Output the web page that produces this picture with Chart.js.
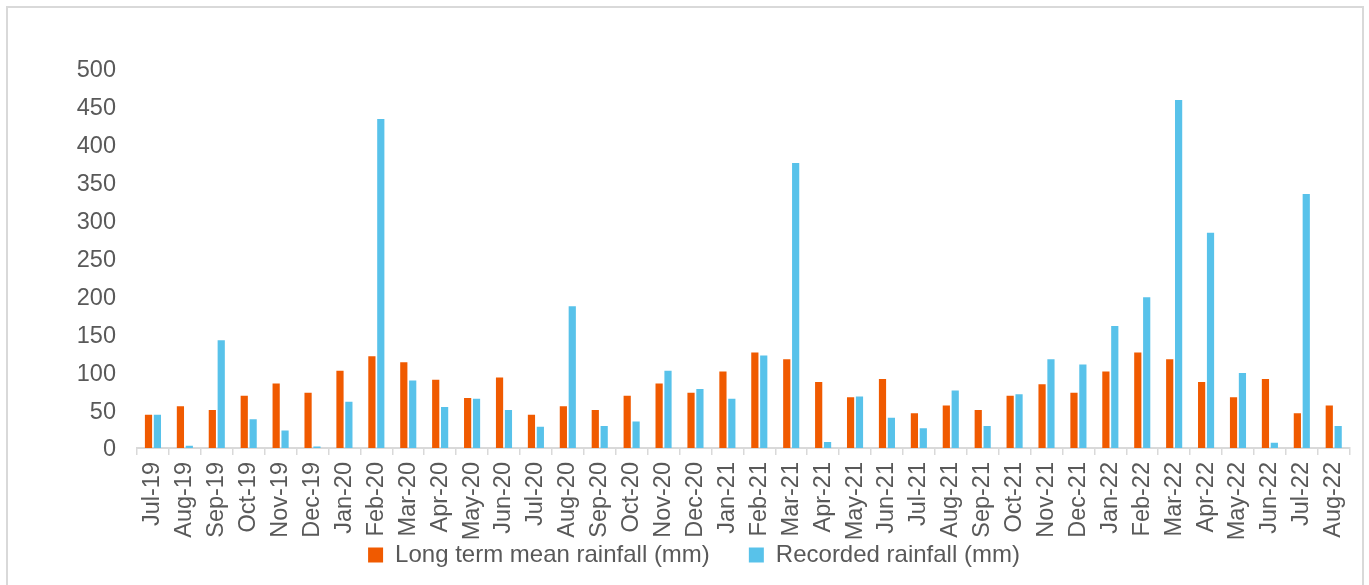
<!DOCTYPE html>
<html>
<head>
<meta charset="utf-8">
<script src="https://cdn.jsdelivr.net/npm/chart.js@4.4.1/dist/chart.umd.min.js"></script>
<style>
  html, body { margin: 0; padding: 0; background: #ffffff; }
  body { width: 1369px; height: 585px; overflow: hidden; position: relative; }
  #frame { position: absolute; left: 6px; top: 6px; width: 1358px; height: 600px; border: 2px solid #D9D9D9; box-sizing: border-box; }
  #wrap { position: absolute; left: 0; top: 0; width: 1369px; height: 585px; }
</style>
</head>
<body>
<div id="frame"></div>
<div id="wrap"><canvas id="c" width="1369" height="585"></canvas></div>
<script>
const categories = ["Jul-19","Aug-19","Sep-19","Oct-19","Nov-19","Dec-19",
  "Jan-20","Feb-20","Mar-20","Apr-20","May-20","Jun-20","Jul-20","Aug-20","Sep-20","Oct-20","Nov-20","Dec-20",
  "Jan-21","Feb-21","Mar-21","Apr-21","May-21","Jun-21","Jul-21","Aug-21","Sep-21","Oct-21","Nov-21","Dec-21",
  "Jan-22","Feb-22","Mar-22","Apr-22","May-22","Jun-22","Jul-22","Aug-22"];

const longTermMean = [44, 55, 50, 69, 85, 73,
  102, 121, 113, 90, 66, 93, 44, 55, 50, 69, 85, 73,
  101, 126, 117, 87, 67, 91, 46, 56, 50, 69, 84, 73,
  101, 126, 117, 87, 67, 91, 46, 56];

const recorded = [44, 3, 142, 38, 23, 2,
  61, 434, 89, 54, 65, 50, 28, 187, 29, 35, 102, 78,
  65, 122, 376, 8, 68, 40, 26, 76, 29, 71, 117, 110,
  161, 199, 459, 284, 99, 7, 335, 29];

const seriesNames = ["Long term mean rainfall (mm)", "Recorded rainfall (mm)"];
const yTicks = [0, 50, 100, 150, 200, 250, 300, 350, 400, 450, 500];

const FONT = "'Liberation Sans', Arial, sans-serif";
const TXT = "#595959";

new Chart(document.getElementById("c"), {
  type: "bar",
  data: {
    labels: categories,
    datasets: [
      { label: seriesNames[0], data: longTermMean, backgroundColor: "#F05A00",
        categoryPercentage: 0.5575, barPercentage: 0.81 },
      { label: seriesNames[1], data: recorded, backgroundColor: "#58C2EA",
        categoryPercentage: 0.5575, barPercentage: 0.81 }
    ]
  },
  options: {
    responsive: false,
    animation: false,
    devicePixelRatio: 1,
    layout: { padding: { left: 25, right: 6, top: 69, bottom: 8 } },
    plugins: {
      tooltip: { enabled: false },
      legend: {
        position: "bottom",
        labels: {
          font: { family: FONT, size: 24 },
          color: TXT,
          boxWidth: 15,
          boxHeight: 15,
          padding: 39
        }
      }
    },
    scales: {
      x: {
        afterFit: (s) => {
          s.height = 56;
          // let the vertical labels extend below the (shortened) axis box
          s._computeLabelArea = () => undefined;
        },
        grid: { display: true, drawOnChartArea: false, drawTicks: true, tickLength: 7,
                color: "#D9D9D9", lineWidth: 1.5, offset: true },
        border: { display: true, color: "#D9D9D9", width: 2 },
        ticks: { autoSkip: false, minRotation: 90, maxRotation: 90, padding: 7,
                 color: TXT, font: { family: FONT, size: 23.5 } }
      },
      y: {
        min: 0, max: 500,
        afterFit: (s) => { s.width = 112; },
        afterBuildTicks: (s) => { s.ticks = yTicks.map(v => ({ value: v })); },
        grid: { display: false, drawTicks: false },
        border: { display: false },
        ticks: { padding: 21, labelOffset: 2, color: TXT, font: { family: FONT, size: 23.5 } }
      }
    }
  }
});
</script>
</body>
</html>
